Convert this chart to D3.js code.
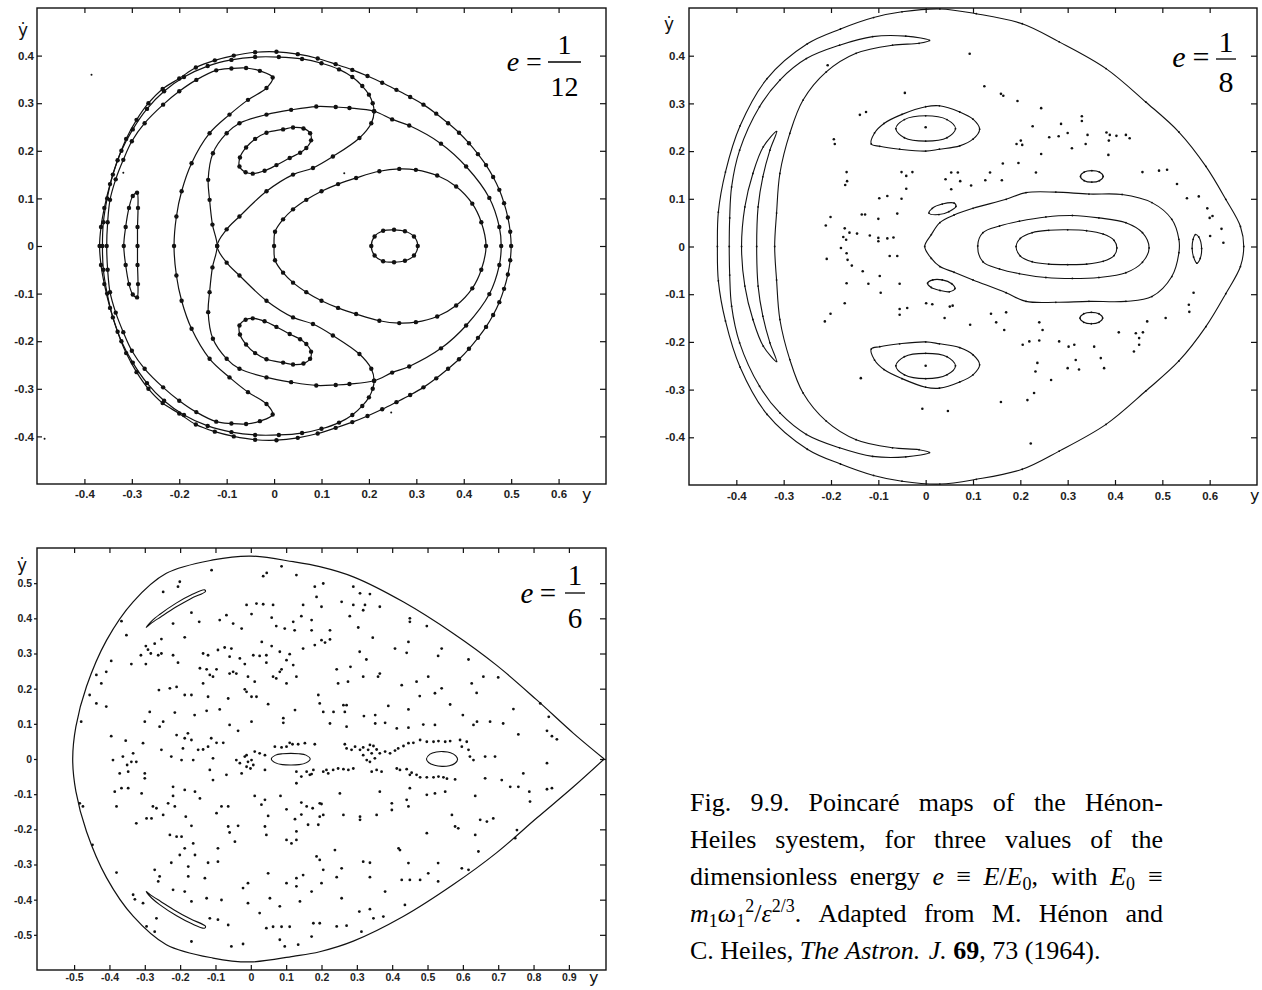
<!DOCTYPE html>
<html>
<head>
<meta charset="utf-8">
<script src="https://cdn.jsdelivr.net/npm/d3@7"></script>
<style>
body { margin: 0; background: #fff; }
svg { display: block; }
</style>
</head>
<body>
<svg width="1262" height="990"></svg>
<script>
// ---------- panel 1 : e = 1/12 ----------
const p1Outer = [[0.500,0],[0.498,0.030],[0.493,0.060],[0.485,0.090],[0.475,0.118],[0.462,0.145],[0.447,0.170],[0.430,0.193],[0.411,0.216],[0.390,0.238],[0.367,0.258],[0.342,0.278],[0.315,0.297],[0.287,0.313],[0.258,0.328],[0.228,0.343],[0.197,0.357],[0.165,0.370],[0.130,0.382],[0.092,0.394],[0.050,0.403],[0.005,0.408],[-0.040,0.407],[-0.085,0.400],[-0.125,0.390],[-0.165,0.375],[-0.200,0.352],[-0.235,0.330],[-0.265,0.300],[-0.290,0.265],[-0.312,0.225],[-0.330,0.180],[-0.346,0.130],[-0.358,0.080],[-0.365,0.040],[-0.368,0],[-0.365,-0.040],[-0.358,-0.080],[-0.346,-0.130],[-0.330,-0.180],[-0.312,-0.225],[-0.290,-0.265],[-0.265,-0.300],[-0.235,-0.330],[-0.200,-0.352],[-0.165,-0.375],[-0.125,-0.390],[-0.085,-0.400],[-0.040,-0.407],[0.005,-0.408],[0.050,-0.403],[0.092,-0.394],[0.130,-0.382],[0.165,-0.370],[0.197,-0.357],[0.228,-0.343],[0.258,-0.328],[0.287,-0.313],[0.315,-0.297],[0.342,-0.278],[0.367,-0.258],[0.390,-0.238],[0.411,-0.216],[0.430,-0.193],[0.447,-0.170],[0.462,-0.145],[0.475,-0.118],[0.485,-0.090],[0.493,-0.060],[0.498,-0.030]];

const p1Separatrix = [[-0.362,0],[-0.360,0.050],[-0.352,0.100],[-0.340,0.150],[-0.322,0.200],[-0.298,0.245],[-0.268,0.288],[-0.232,0.325],[-0.190,0.355],[-0.140,0.378],[-0.090,0.391],[-0.040,0.397],[0.010,0.397],[0.059,0.393],[0.100,0.384],[0.137,0.371],[0.165,0.355],[0.186,0.336],[0.200,0.318],[0.208,0.300],[0.211,0.283],[0.205,0.258],[0.180,0.227],[0.124,0.188],[0.082,0.164],[0.040,0.150],[-0.016,0.115],[-0.073,0.062],[-0.100,0.035],[-0.120,0],[-0.100,-0.035],[-0.073,-0.062],[-0.016,-0.115],[0.040,-0.150],[0.082,-0.164],[0.124,-0.188],[0.180,-0.227],[0.205,-0.258],[0.211,-0.283],[0.208,-0.300],[0.200,-0.318],[0.186,-0.336],[0.165,-0.355],[0.137,-0.371],[0.100,-0.384],[0.059,-0.393],[0.010,-0.397],[-0.040,-0.397],[-0.090,-0.391],[-0.140,-0.378],[-0.190,-0.355],[-0.232,-0.325],[-0.268,-0.288],[-0.298,-0.245],[-0.322,-0.200],[-0.340,-0.150],[-0.352,-0.100],[-0.360,-0.050]];

const p1Loop = [[-0.120,0],[-0.130,0.045],[-0.136,0.097],[-0.139,0.139],[-0.129,0.195],[-0.100,0.237],[-0.073,0.258],[-0.016,0.276],[0.036,0.286],[0.089,0.293],[0.130,0.292],[0.159,0.290],[0.211,0.283],[0.249,0.266],[0.285,0.253],[0.352,0.215],[0.405,0.167],[0.454,0.101],[0.475,0.040],[0.479,0],[0.475,-0.040],[0.454,-0.101],[0.405,-0.167],[0.352,-0.215],[0.285,-0.253],[0.249,-0.266],[0.211,-0.283],[0.159,-0.290],[0.130,-0.292],[0.089,-0.293],[0.036,-0.286],[-0.016,-0.276],[-0.073,-0.258],[-0.100,-0.237],[-0.129,-0.195],[-0.139,-0.139],[-0.136,-0.097],[-0.130,-0.045]];

const p1Heart = [[0,0],[0.002,0.030],[0.019,0.056],[0.040,0.077],[0.068,0.097],[0.100,0.115],[0.135,0.130],[0.173,0.143],[0.222,0.157],[0.264,0.162],[0.299,0.160],[0.344,0.148],[0.384,0.125],[0.418,0.089],[0.437,0.050],[0.447,0],[0.437,-0.050],[0.418,-0.089],[0.384,-0.125],[0.344,-0.148],[0.299,-0.160],[0.264,-0.162],[0.222,-0.157],[0.173,-0.143],[0.135,-0.130],[0.100,-0.115],[0.068,-0.097],[0.040,-0.077],[0.019,-0.056],[0.002,-0.030]];

const p1Crescent = [[-0.003,0.354],[-0.030,0.368],[-0.059,0.374],[-0.090,0.373],[-0.122,0.369],[-0.164,0.349],[-0.200,0.325],[-0.234,0.297],[-0.273,0.258],[-0.300,0.220],[-0.318,0.181],[-0.334,0.140],[-0.346,0.097],[-0.351,0.050],[-0.353,0],[-0.351,-0.050],[-0.346,-0.097],[-0.334,-0.140],[-0.318,-0.181],[-0.300,-0.220],[-0.273,-0.258],[-0.234,-0.297],[-0.200,-0.325],[-0.164,-0.349],[-0.122,-0.369],[-0.090,-0.373],[-0.059,-0.374],[-0.030,-0.368],[-0.003,-0.354],[-0.016,-0.332],[-0.055,-0.307],[-0.094,-0.276],[-0.136,-0.237],[-0.174,-0.174],[-0.195,-0.115],[-0.206,-0.062],[-0.211,0],[-0.206,0.062],[-0.195,0.115],[-0.174,0.174],[-0.136,0.237],[-0.094,0.276],[-0.055,0.307],[-0.016,0.332]];

const p1IslandTop = [[-0.073,0.167],[-0.060,0.155],[-0.045,0.152],[-0.020,0.158],[0.005,0.170],[0.033,0.185],[0.055,0.196],[0.068,0.206],[0.078,0.222],[0.076,0.237],[0.062,0.247],[0.040,0.249],[0.019,0.245],[-0.016,0.238],[-0.040,0.225],[-0.059,0.207],[-0.072,0.186]];
const p1IslandBottom = [[-0.073,-0.167],[-0.060,-0.155],[-0.045,-0.152],[-0.020,-0.158],[0.005,-0.170],[0.033,-0.185],[0.055,-0.196],[0.068,-0.206],[0.078,-0.222],[0.076,-0.237],[0.062,-0.247],[0.040,-0.249],[0.019,-0.245],[-0.016,-0.238],[-0.040,-0.225],[-0.059,-0.207],[-0.072,-0.186]];
const p1IslandRight = [[0.205,0],[0.212,0.020],[0.230,0.032],[0.253,0.034],[0.276,0.031],[0.295,0.020],[0.303,0],[0.295,-0.020],[0.276,-0.031],[0.253,-0.034],[0.230,-0.032],[0.212,-0.020]];
const p1IslandLeft = [[-0.289,0.112],[-0.298,0.105],[-0.306,0.080],[-0.313,0.040],[-0.317,0],[-0.313,-0.040],[-0.306,-0.080],[-0.298,-0.102],[-0.289,-0.108],[-0.287,-0.080],[-0.288,-0.040],[-0.288,0],[-0.288,0.040],[-0.287,0.080]];
const p1Stray = [[-0.385,0.360],[0.148,0.153],[-0.484,-0.405],[0.247,-0.350],[-0.318,0.154]];

// ---------- panel 2 : e = 1/8 ----------
const p2Boundary = [[0.672,0],[0.665,0.042],[0.634,0.099],[0.592,0.168],[0.535,0.240],[0.465,0.303],[0.381,0.373],[0.282,0.429],[0.204,0.467],[0.107,0.488],[0.030,0.498],[-0.050,0.492],[-0.110,0.480],[-0.180,0.456],[-0.250,0.425],[-0.335,0.352],[-0.392,0.253],[-0.423,0.156],[-0.438,0.072],[-0.440,0],[-0.438,-0.072],[-0.423,-0.156],[-0.392,-0.253],[-0.335,-0.352],[-0.250,-0.425],[-0.180,-0.456],[-0.110,-0.480],[-0.050,-0.492],[0.030,-0.498],[0.107,-0.488],[0.204,-0.467],[0.282,-0.429],[0.381,-0.373],[0.465,-0.303],[0.535,-0.240],[0.592,-0.168],[0.634,-0.099],[0.665,-0.042]];
const p2Crescent = [[0.008,0.432],[-0.042,0.441],[-0.112,0.440],[-0.182,0.422],[-0.252,0.394],[-0.308,0.349],[-0.351,0.293],[-0.393,0.202],[-0.410,0.125],[-0.414,0.060],[-0.415,0],[-0.414,-0.060],[-0.410,-0.125],[-0.393,-0.202],[-0.351,-0.293],[-0.308,-0.349],[-0.252,-0.394],[-0.182,-0.422],[-0.112,-0.440],[-0.042,-0.441],[0.008,-0.432],[-0.014,-0.426],[-0.070,-0.422],[-0.147,-0.405],[-0.210,-0.366],[-0.259,-0.307],[-0.287,-0.237],[-0.308,-0.153],[-0.315,-0.070],[-0.319,0],[-0.315,0.070],[-0.308,0.153],[-0.287,0.237],[-0.259,0.307],[-0.210,0.366],[-0.147,0.405],[-0.070,0.422],[-0.014,0.426]];
const p2Sliver = [[-0.315,0.241],[-0.343,0.209],[-0.365,0.153],[-0.382,0.083],[-0.389,0],[-0.382,-0.083],[-0.365,-0.153],[-0.343,-0.209],[-0.315,-0.241],[-0.329,-0.202],[-0.344,-0.146],[-0.354,-0.083],[-0.357,0],[-0.354,0.083],[-0.344,0.146],[-0.329,0.202]];
const p2TopLoop = [[-0.115,0.215],[-0.108,0.238],[-0.088,0.258],[-0.050,0.277],[0,0.293],[0.029,0.295],[0.072,0.282],[0.100,0.267],[0.114,0.246],[0.100,0.225],[0.072,0.211],[0.029,0.204],[0,0.200],[-0.055,0.204],[-0.097,0.210]];
const p2TopCore = [[-0.063,0.247],[-0.045,0.266],[0,0.274],[0.045,0.266],[0.063,0.247],[0.045,0.228],[0,0.221],[-0.045,0.228]];
const p2BottomLoop = [[-0.115,-0.215],[-0.108,-0.238],[-0.088,-0.258],[-0.050,-0.277],[0,-0.295],[0.029,-0.297],[0.072,-0.284],[0.100,-0.269],[0.114,-0.248],[0.100,-0.227],[0.072,-0.212],[0.029,-0.204],[0,-0.200],[-0.055,-0.204],[-0.097,-0.210]];
const p2BottomCore = [[-0.063,-0.250],[-0.045,-0.269],[0,-0.277],[0.045,-0.269],[0.063,-0.250],[0.045,-0.231],[0,-0.224],[-0.045,-0.231]];
const p2SmallTop = [[0.007,0.070],[0.014,0.080],[0.035,0.089],[0.060,0.091],[0.064,0.084],[0.049,0.073],[0.028,0.067]];
const p2SmallBottom = [[0.004,-0.077],[0.015,-0.070],[0.035,-0.070],[0.055,-0.078],[0.062,-0.088],[0.050,-0.095],[0.030,-0.092],[0.012,-0.086]];
const p2Outer = [[-0.002,0],[0.012,0.025],[0.030,0.050],[0.060,0.066],[0.100,0.080],[0.170,0.099],[0.212,0.113],[0.275,0.114],[0.345,0.110],[0.415,0.109],[0.478,0.092],[0.520,0.057],[0.535,0.015],[0.535,-0.013],[0.520,-0.063],[0.478,-0.105],[0.423,-0.115],[0.345,-0.115],[0.275,-0.117],[0.212,-0.115],[0.170,-0.097],[0.100,-0.070],[0.060,-0.054],[0.030,-0.042],[0.012,-0.025]];
const p2Middle = [[0.110,0.001],[0.121,0.029],[0.156,0.043],[0.198,0.053],[0.254,0.062],[0.310,0.065],[0.366,0.060],[0.423,0.050],[0.458,0.029],[0.472,-0.003],[0.458,-0.033],[0.423,-0.055],[0.366,-0.065],[0.310,-0.067],[0.254,-0.065],[0.198,-0.057],[0.156,-0.047],[0.121,-0.032]];
const p2Inner = [[0.191,0],[0.200,0.017],[0.225,0.029],[0.260,0.034],[0.300,0.035],[0.340,0.033],[0.375,0.026],[0.398,0.013],[0.404,-0.003],[0.398,-0.019],[0.375,-0.031],[0.340,-0.037],[0.300,-0.038],[0.260,-0.037],[0.225,-0.032],[0.200,-0.020]];
const p2EyeTop = [[0.327,0.147],[0.335,0.156],[0.351,0.159],[0.367,0.156],[0.375,0.147],[0.367,0.138],[0.351,0.135],[0.335,0.138]];
const p2EyeBottom = [[0.326,-0.150],[0.334,-0.141],[0.350,-0.138],[0.366,-0.141],[0.374,-0.150],[0.366,-0.159],[0.350,-0.162],[0.334,-0.159]];
const p2EyeRight = [[0.563,-0.004],[0.565,0.015],[0.570,0.025],[0.577,0.020],[0.583,-0.004],[0.580,-0.025],[0.573,-0.035],[0.566,-0.022]];
const p2Scatter = [[0,0.250],[0,-0.250],[-0.207,0.380],[-0.044,0.322],[-0.139,0.276],[-0.126,0.282],[-0.194,0.225],[-0.192,0.215],[-0.167,0.156],[-0.166,0.137],[-0.170,0.129],[-0.051,0.156],[-0.041,0.148],[-0.028,0.156],[-0.041,0.121],[-0.051,0.100],[-0.081,0.106],[-0.098,0.101],[-0.060,0.069],[-0.135,0.067],[-0.128,0.067],[-0.201,0.062],[-0.211,0.044],[-0.100,0.058],[-0.118,0.023],[-0.100,0.018],[-0.100,0.011],[-0.081,0.017],[-0.068,0.019],[-0.171,0.038],[-0.161,0.029],[-0.145,0.027],[-0.174,0.020],[-0.168,0.014],[-0.179,-0.003],[-0.167,-0.014],[-0.165,-0.028],[-0.156,-0.040],[-0.133,-0.052],[-0.209,-0.026],[-0.076,-0.020],[-0.060,-0.020],[-0.097,-0.062],[-0.121,-0.078],[-0.167,-0.077],[-0.095,-0.097],[-0.055,-0.078],[-0.171,-0.119],[-0.201,-0.141],[-0.213,-0.157],[-0.055,-0.131],[-0.055,-0.143],[-0.039,-0.129],[0.001,-0.119],[0.014,-0.121],[0.040,-0.150],[0.051,-0.126],[-0.137,-0.276],[-0.007,-0.340],[0.047,-0.345],[0.054,0.155],[0.068,0.155],[0.042,0.141],[0.054,0.120],[0.093,0.404],[0.124,0.336],[0.159,0.320],[0.164,0.316],[0.194,0.305],[0.244,0.290],[0.226,0.252],[0.330,0.273],[0.330,0.263],[0.286,0.257],[0.300,0.238],[0.261,0.229],[0.281,0.231],[0.342,0.234],[0.338,0.215],[0.309,0.206],[0.382,0.239],[0.389,0.234],[0.403,0.232],[0.423,0.234],[0.431,0.227],[0.387,0.222],[0.386,0.192],[0.192,0.215],[0.201,0.222],[0.204,0.213],[0.196,0.175],[0.244,0.194],[0.163,0.174],[0.233,0.155],[0.161,0.139],[0.136,0.155],[0.126,0.139],[0.096,0.128],[0.073,0.137],[0.458,0.156],[0.493,0.159],[0.510,0.161],[0.531,0.131],[0.552,0.101],[0.577,0.105],[0.595,0.080],[0.600,0.060],[0.606,0.064],[0.625,0.037],[0.629,0.008],[0.601,0.022],[0.566,-0.097],[0.556,-0.122],[0.557,-0.137],[0.507,-0.150],[0.468,-0.157],[0.459,-0.180],[0.451,-0.192],[0.444,-0.182],[0.451,-0.206],[0.440,-0.220],[0.408,-0.180],[0.138,-0.141],[0.149,-0.159],[0.170,-0.138],[0.166,-0.175],[0.240,-0.159],[0.247,-0.175],[0.240,-0.197],[0.219,-0.199],[0.205,-0.206],[0.282,-0.199],[0.302,-0.210],[0.314,-0.206],[0.356,-0.210],[0.317,-0.238],[0.300,-0.255],[0.324,-0.258],[0.370,-0.234],[0.377,-0.255],[0.236,-0.244],[0.232,-0.262],[0.265,-0.280],[0.229,-0.307],[0.215,-0.322],[0.159,-0.326],[0.094,-0.164],[0.057,-0.124],[0.222,-0.413]];

// ---------- panel 3 : e = 1/6 ----------
const p3Boundary = [[1.000,0],[0.913,0.073],[0.809,0.168],[0.695,0.267],[0.573,0.357],[0.431,0.447],[0.290,0.518],[0.195,0.547],[0.120,0.561],[0,0.577],[-0.107,0.566],[-0.239,0.528],[-0.333,0.447],[-0.408,0.338],[-0.465,0.206],[-0.495,0.092],[-0.504,0],[-0.495,-0.092],[-0.465,-0.206],[-0.408,-0.338],[-0.333,-0.447],[-0.239,-0.528],[-0.107,-0.566],[0,-0.577],[0.120,-0.561],[0.195,-0.548],[0.290,-0.518],[0.431,-0.448],[0.573,-0.357],[0.695,-0.267],[0.809,-0.168],[0.913,-0.079],[1.000,0]];
const p3CrescentTop = [[-0.296,0.374],[-0.280,0.393],[-0.258,0.411],[-0.210,0.444],[-0.168,0.467],[-0.131,0.481],[-0.128,0.477],[-0.170,0.456],[-0.212,0.432],[-0.255,0.404],[-0.283,0.385]];
const p3CrescentBottom = [[-0.296,-0.377],[-0.280,-0.396],[-0.258,-0.414],[-0.210,-0.446],[-0.168,-0.468],[-0.131,-0.481],[-0.128,-0.476],[-0.170,-0.455],[-0.212,-0.432],[-0.255,-0.405],[-0.283,-0.387]];
const p3OvalLeft = [[0.058,0],[0.070,0.011],[0.090,0.015],[0.113,0.016],[0.136,0.015],[0.156,0.011],[0.168,0],[0.156,-0.011],[0.136,-0.016],[0.113,-0.017],[0.090,-0.016],[0.070,-0.011]];
const p3OvalRight = [[0.497,0],[0.507,0.014],[0.525,0.020],[0.545,0.021],[0.565,0.018],[0.580,0.009],[0.585,-0.001],[0.578,-0.012],[0.562,-0.019],[0.541,-0.021],[0.520,-0.018],[0.503,-0.010]];
const p3Scatter = [[-0.111,0.537],[0.035,0.520],[0.045,0.529],[0.087,0.548],[0.129,0.523],[-0.201,0.504],[-0.206,0.490],[-0.248,0.475],[0.181,0.490],[0.205,0.499],[0.186,0.461],[0.200,0.433],[-0.012,0.438],[0.016,0.442],[0.035,0.440],[0.063,0.438],[0.148,0.438],[-0.168,0.416],[-0.069,0.409],[-0.088,0.395],[0.002,0.412],[0.059,0.402],[0.120,0.390],[0.143,0.406],[0.172,0.395],[-0.050,0.385],[-0.026,0.371],[0.072,0.378],[0.096,0.371],[0.124,0.366],[0.172,0.366],[-0.146,0.390],[-0.220,0.385],[-0.187,0.346],[-0.253,0.341],[-0.352,0.352],[-0.366,0.392],[-0.297,0.321],[-0.311,0.295],[-0.283,0.300],[-0.297,0.270],[-0.272,0.328],[-0.291,0.311],[-0.262,0.295],[-0.253,0.300],[-0.220,0.295],[-0.206,0.274],[-0.338,0.270],[-0.395,0.279],[-0.409,0.248],[-0.437,0.239],[-0.423,0.215],[-0.456,0.182],[-0.437,0.158],[-0.480,0.106],[-0.409,0.149],[-0.135,0.300],[-0.121,0.295],[-0.093,0.310],[-0.074,0.317],[-0.055,0.314],[-0.060,0.291],[-0.031,0.286],[-0.017,0.270],[0.007,0.295],[0.025,0.293],[0.044,0.295],[0.031,0.333],[0.059,0.321],[0.082,0.305],[0.110,0.298],[0.101,0.281],[0.120,0.267],[0.148,0.314],[0.181,0.324],[0.200,0.338],[-0.144,0.258],[-0.125,0.255],[-0.116,0.239],[-0.107,0.234],[-0.097,0.255],[-0.060,0.243],[-0.050,0.248],[-0.041,0.243],[-0.008,0.234],[0.011,0.220],[0.044,0.274],[0.063,0.234],[0.072,0.229],[0.087,0.255],[0.101,0.215],[0.129,0.234],[0.082,0.248],[-0.135,0.215],[-0.121,0.177],[-0.064,0.172],[-0.017,0.198],[-0.012,0.191],[0.016,0.177],[0.049,0.156],[0.002,0.177],[-0.260,0.196],[-0.229,0.201],[-0.210,0.205],[-0.187,0.182],[-0.168,0.182],[-0.215,0.132],[-0.159,0.125],[-0.125,0.137],[-0.088,0.141],[-0.286,0.134],[-0.300,0.106],[-0.248,0.106],[-0.258,0.092],[0.191,0.182],[0.195,0.158],[0.205,0.134],[0.125,0.139],[0.092,0.116],[0.092,0.103],[0.002,0.106],[-0.060,0.097],[-0.036,0.080],[-0.395,0.065],[-0.354,0.052],[-0.333,0.016],[-0.305,0.045],[-0.253,0.026],[-0.210,0.068],[-0.187,0.059],[-0.178,0.073],[-0.168,0.054],[-0.149,0.026],[-0.135,0.027],[-0.121,0.035],[-0.112,0.059],[-0.097,0.046],[-0.078,0.046],[-0.192,0.030],[-0.225,0.007],[-0.362,0.007],[-0.350,-0.017],[-0.338,-0.008],[-0.324,-0.008],[-0.390,-0.003],[-0.371,-0.041],[-0.347,-0.036],[-0.300,-0.041],[-0.300,-0.055],[-0.196,-0.003],[-0.163,-0.003],[-0.116,-0.031],[-0.107,-0.060],[-0.069,-0.045],[-0.107,0.002],[-0.041,-0.003],[-0.031,-0.012],[-0.017,0.007],[-0.008,-0.008],[-0.012,-0.022],[-0.001,-0.027],[0.007,-0.017],[0.011,0.021],[0.025,0.016],[0.040,0.011],[-0.026,-0.041],[0.040,-0.031],[-0.012,0.011],[0.002,-0.003],[0.068,0.035],[0.087,0.033],[0.110,0.046],[0.118,0.042],[0.134,0.042],[0.153,0.045],[0.181,0.042],[0.101,0.035],[0.129,-0.036],[0.143,-0.050],[0.158,-0.036],[0.167,-0.045],[0.177,-0.031],[0.205,-0.036],[0.219,-0.041],[0.172,-0.043],[0.129,-0.069],[-0.385,-0.093],[-0.366,-0.083],[-0.347,-0.083],[-0.380,-0.135],[-0.309,-0.098],[-0.220,-0.079],[-0.220,-0.105],[-0.187,-0.088],[-0.158,-0.093],[-0.144,-0.112],[-0.234,-0.126],[-0.215,-0.135],[-0.277,-0.135],[-0.267,-0.140],[-0.248,-0.159],[-0.295,-0.169],[-0.281,-0.169],[-0.324,-0.183],[-0.184,-0.164],[-0.168,-0.190],[-0.097,-0.154],[-0.083,-0.135],[-0.064,-0.135],[-0.064,-0.192],[-0.036,-0.190],[-0.060,-0.209],[-0.045,-0.235],[0.011,-0.105],[0.030,-0.130],[0.040,-0.116],[0.049,-0.162],[0.040,-0.192],[0.044,-0.216],[0.084,-0.105],[0.101,-0.143],[0.125,-0.171],[0.143,-0.124],[0.143,-0.158],[0.158,-0.135],[0.175,-0.140],[0.200,-0.128],[0.205,-0.159],[0.162,-0.187],[0.191,-0.187],[0.101,-0.230],[0.115,-0.240],[0.129,-0.230],[0.129,-0.206],[-0.229,-0.216],[-0.210,-0.221],[-0.196,-0.221],[-0.163,-0.240],[-0.187,-0.254],[-0.201,-0.273],[-0.225,-0.295],[-0.177,-0.306],[-0.158,-0.273],[-0.121,-0.295],[-0.093,-0.292],[-0.093,-0.254],[-0.130,-0.339],[-0.177,-0.334],[-0.258,-0.334],[-0.272,-0.315],[-0.262,-0.348],[-0.380,-0.323],[-0.333,-0.386],[-0.328,-0.399],[-0.305,-0.410],[-0.220,-0.372],[-0.187,-0.377],[-0.168,-0.405],[-0.125,-0.396],[-0.083,-0.401],[-0.116,-0.453],[-0.093,-0.457],[-0.064,-0.472],[-0.267,-0.453],[-0.295,-0.476],[-0.272,-0.491],[-0.168,-0.519],[-0.055,-0.533],[-0.022,-0.526],[-0.022,-0.367],[-0.008,-0.353],[-0.008,-0.410],[0.025,-0.438],[0.049,-0.325],[0.054,-0.396],[0.082,-0.419],[0.101,-0.353],[0.129,-0.339],[0.129,-0.362],[0.148,-0.330],[0.172,-0.377],[0.139,-0.405],[0.044,-0.481],[0.063,-0.477],[0.087,-0.477],[0.110,-0.477],[0.082,-0.514],[0.096,-0.533],[0.134,-0.528],[0.172,-0.505],[0.177,-0.467],[0.195,-0.467],[0.195,-0.287],[0.205,-0.315],[0.200,-0.353],[0.186,-0.277],[-0.484,-0.126],[-0.475,-0.135],[-0.448,-0.244],[0.290,0.490],[0.309,0.471],[0.337,0.469],[0.257,0.447],[0.290,0.438],[0.323,0.438],[0.318,0.423],[0.365,0.433],[0.280,0.406],[0.450,0.400],[0.450,0.390],[0.498,0.378],[0.224,0.366],[0.224,0.340],[0.304,0.374],[0.345,0.345],[0.446,0.333],[0.408,0.314],[0.441,0.302],[0.308,0.305],[0.327,0.283],[0.210,0.331],[0.540,0.314],[0.530,0.293],[0.616,0.283],[0.243,0.255],[0.282,0.262],[0.247,0.215],[0.275,0.220],[0.318,0.234],[0.365,0.243],[0.360,0.234],[0.427,0.210],[0.469,0.220],[0.502,0.234],[0.540,0.201],[0.521,0.187],[0.478,0.179],[0.625,0.215],[0.639,0.188],[0.700,0.232],[0.658,0.234],[0.234,0.134],[0.262,0.153],[0.271,0.153],[0.266,0.134],[0.320,0.122],[0.352,0.125],[0.389,0.151],[0.446,0.141],[0.564,0.155],[0.600,0.125],[0.640,0.106],[0.677,0.106],[0.714,0.101],[0.743,0.142],[0.757,0.070],[0.819,0.158],[0.843,0.120],[0.838,0.080],[0.852,0.065],[0.866,0.056],[0.224,0.101],[0.271,0.092],[0.352,0.101],[0.380,0.103],[0.413,0.087],[0.446,0.089],[0.488,0.098],[0.521,0.097],[0.630,0.097],[0.266,0.042],[0.271,0.030],[0.285,0.026],[0.295,0.035],[0.309,0.026],[0.318,0.033],[0.332,0.026],[0.337,0.040],[0.347,0.037],[0.356,0.027],[0.365,0.016],[0.380,0.021],[0.394,0.016],[0.408,0.024],[0.417,0.030],[0.432,0.037],[0.446,0.045],[0.460,0.046],[0.479,0.054],[0.498,0.049],[0.517,0.049],[0.531,0.051],[0.550,0.049],[0.564,0.051],[0.592,0.054],[0.611,0.049],[0.597,0.035],[0.616,0.026],[0.620,0.007],[0.630,-0.003],[0.318,0.011],[0.328,-0.003],[0.337,-0.008],[0.351,0.002],[0.342,0.016],[0.214,-0.031],[0.233,-0.031],[0.247,-0.027],[0.262,-0.029],[0.276,-0.031],[0.290,-0.027],[0.342,-0.036],[0.356,-0.031],[0.370,-0.036],[0.413,-0.027],[0.422,-0.031],[0.441,-0.029],[0.455,-0.039],[0.469,-0.045],[0.479,-0.052],[0.498,-0.052],[0.517,-0.052],[0.531,-0.050],[0.545,-0.052],[0.555,-0.056],[0.578,-0.058],[0.450,-0.045],[0.663,0.007],[0.691,0.007],[0.710,-0.060],[0.734,-0.079],[0.757,-0.079],[0.771,-0.041],[0.838,-0.012],[0.838,-0.086],[0.852,-0.083],[0.788,-0.093],[0.790,-0.121],[0.663,-0.055],[0.635,-0.105],[0.365,-0.093],[0.450,-0.083],[0.441,-0.116],[0.498,-0.102],[0.521,-0.098],[0.550,-0.093],[0.252,-0.098],[0.262,-0.159],[0.309,-0.173],[0.356,-0.159],[0.399,-0.126],[0.399,-0.145],[0.446,-0.135],[0.498,-0.211],[0.569,-0.159],[0.578,-0.192],[0.587,-0.197],[0.635,-0.216],[0.649,-0.173],[0.668,-0.178],[0.686,-0.169],[0.753,-0.202],[0.748,-0.225],[0.644,-0.263],[0.616,-0.315],[0.597,-0.311],[0.530,-0.296],[0.530,-0.348],[0.502,-0.325],[0.446,-0.296],[0.427,-0.344],[0.450,-0.344],[0.479,-0.344],[0.418,-0.254],[0.422,-0.259],[0.318,-0.292],[0.337,-0.295],[0.337,-0.336],[0.238,-0.259],[0.257,-0.311],[0.243,-0.336],[0.380,-0.377],[0.436,-0.415],[0.257,-0.396],[0.307,-0.434],[0.337,-0.427],[0.347,-0.453],[0.375,-0.448],[0.243,-0.476],[0.271,-0.474],[0.313,-0.491],[0.309,-0.164],[0.195,-0.164],[0.195,-0.126]];

// ---------- ticks, labels ----------
const ticksX12 = [-0.4,-0.3,-0.2,-0.1,0,0.1,0.2,0.3,0.4,0.5,0.6];
const ticksY12 = [-0.4,-0.3,-0.2,-0.1,0,0.1,0.2,0.3,0.4];
const ticksX3 = [-0.5,-0.4,-0.3,-0.2,-0.1,0,0.1,0.2,0.3,0.4,0.5,0.6,0.7,0.8,0.9];
const ticksY3 = [-0.5,-0.4,-0.3,-0.2,-0.1,0,0.1,0.2,0.3,0.4,0.5];
const energyLabels = [["1","12"],["1","8"],["1","6"]];
const captionLines = [
  "Fig. 9.9. Poincaré maps of the Hénon-",
  "Heiles syestem, for three values of the",
  "dimensionless energy _e_ ≡ _E_/_E_~0~, with _E_~0~ ≡",
  "_m_~1~_ω_~1~^2^/_ε_^2/3^.  Adapted from M. Hénon and",
  "C. Heiles, _The_ _Astron._ _J._ *69*, 73 (1964)."
];

const svg = d3.select("svg");
const ink = "#111";
const fmt = d => d === 0 ? "0" : d.toFixed(1);

const x1 = d3.scaleLinear().domain([-0.5, 0.7]).range([37, 606]);
const y1 = d3.scaleLinear().domain([-0.5, 0.5]).range([484, 8]);
const x2 = d3.scaleLinear().domain([-0.5, 0.7]).range([689, 1257]);
const y2 = d3.scaleLinear().domain([-0.5, 0.5]).range([485, 8]);
const x3 = d3.scaleLinear().domain([-0.605, 1.005]).range([37, 606]);
const y3 = d3.scaleLinear().domain([-0.6, 0.6]).range([970, 548]);

const styleAxis = (g, size) => {
    g.select(".domain").remove();
    g.selectAll("line").attr("stroke", ink).attr("stroke-width", 1.2);
    g.selectAll("text").attr("fill", "#222")
        .style("font-family", "'Liberation Sans', Arial, sans-serif")
        .style("font-weight", "bold")
        .style("font-size", size + "px");
};

const frame = (x, y, xt, yt, o) => {
    const [l, r] = x.range(), [b, t] = y.range();
    svg.append("rect")
        .attr("x", l).attr("y", t).attr("width", r - l).attr("height", b - t)
        .attr("fill", "none").attr("stroke", ink).attr("stroke-width", 1.4);
    svg.append("g").attr("transform", `translate(0,${b})`)
        .call(d3.axisBottom(x).tickValues(xt).tickSizeInner(-5).tickSizeOuter(0).tickPadding(o.padB).tickFormat(fmt))
        .call(g => styleAxis(g, o.size));
    svg.append("g").attr("transform", `translate(0,${t})`)
        .call(d3.axisTop(x).tickValues(xt).tickSizeInner(-5).tickSizeOuter(0).tickFormat(""))
        .call(g => styleAxis(g, o.size));
    svg.append("g").attr("transform", `translate(${l},0)`)
        .call(d3.axisLeft(y).tickValues(yt).tickSizeInner(o.leftTick).tickSizeOuter(0).tickPadding(o.padL).tickFormat(fmt))
        .call(g => styleAxis(g, o.size));
    svg.append("g").attr("transform", `translate(${r},0)`)
        .call(d3.axisRight(y).tickValues(yt).tickSizeInner(-6).tickSizeOuter(0).tickFormat(""))
        .call(g => styleAxis(g, o.size));
    // axis names
    svg.append("text").attr("x", o.ydot[0]).attr("y", o.ydot[1]).text("ẏ")
        .attr("fill", ink).style("font-family", "'DejaVu Sans', sans-serif").style("font-size", "17px");
    svg.append("text").attr("x", o.yname[0]).attr("y", o.yname[1]).text("y")
        .attr("fill", ink).style("font-family", "'DejaVu Sans', sans-serif").style("font-size", "16px");
};

const energy = (lab, o) => {
    const g = svg.append("g").style("font-family", "'Liberation Serif', 'Times New Roman', serif")
        .style("font-size", o.size + "px").attr("fill", "#000");
    g.append("text").attr("x", o.e).attr("y", o.base).attr("text-anchor", "middle")
        .style("font-style", "italic").text("e");
    g.append("text").attr("x", o.eq).attr("y", o.base).attr("text-anchor", "middle").text("=");
    g.append("line").attr("x1", o.bar[0]).attr("x2", o.bar[1]).attr("y1", o.bar[2]).attr("y2", o.bar[2])
        .attr("stroke", "#000").attr("stroke-width", 1.3);
    const cx = (o.bar[0] + o.bar[1]) / 2;
    g.append("text").attr("x", cx).attr("y", o.num).attr("text-anchor", "middle").text(lab[0]);
    g.append("text").attr("x", cx).attr("y", o.den).attr("text-anchor", "middle").text(lab[1]);
};

const closed = (x, y) => d3.line().x(d => x(d[0])).y(d => y(d[1])).curve(d3.curveCatmullRomClosed.alpha(0.5));
const open = (x, y) => d3.line().x(d => x(d[0])).y(d => y(d[1])).curve(d3.curveCatmullRom.alpha(0.5));

const drawCurve = (x, y, pts, width, gen) => {
    svg.append("path").attr("d", (gen || closed)(x, y)(pts))
        .attr("fill", "none").attr("stroke", ink).attr("stroke-width", width);
};
const drawDots = (x, y, pts, r) => {
    svg.append("g").selectAll("circle").data(pts).join("circle")
        .attr("cx", d => x(d[0])).attr("cy", d => y(d[1])).attr("r", r).attr("fill", ink);
};

// ---- panel 1
frame(x1, y1, ticksX12, ticksY12, {padB: 6, padL: 3, leftTick: -5, size: 11.5, ydot: [18, 36], yname: [582, 500]});
[p1Outer, p1Separatrix, p1Loop, p1Heart, p1Crescent, p1IslandTop, p1IslandBottom, p1IslandRight, p1IslandLeft]
    .forEach(c => { drawCurve(x1, y1, c, 1.2); drawDots(x1, y1, c, 2.2); });
drawDots(x1, y1, p1Stray, 1);
energy(energyLabels[0], {size: 28, e: 513, eq: 534, base: 71, bar: [548, 581, 62], num: 54, den: 96});

// ---- panel 2
frame(x2, y2, ticksX12, ticksY12, {padB: 7, padL: 4, leftTick: -5, size: 11.5, ydot: [664, 30], yname: [1250, 501]});
[p2Boundary, p2Crescent, p2Sliver, p2TopLoop, p2TopCore, p2BottomLoop, p2BottomCore, p2SmallTop, p2SmallBottom,
 p2Outer, p2Middle, p2Inner, p2EyeTop, p2EyeBottom, p2EyeRight]
    .forEach(c => { drawCurve(x2, y2, c, 1.1); drawDots(x2, y2, c, 0.9); });
drawDots(x2, y2, p2Scatter, 1.3);
energy(energyLabels[1], {size: 30, e: 1179, eq: 1201, base: 67, bar: [1216, 1236, 59], num: 52, den: 92});

// ---- panel 3
frame(x3, y3, ticksX3, ticksY3, {padB: 4, padL: 2, leftTick: 3, size: 10.5, ydot: [17, 571], yname: [589, 983]});
drawCurve(x3, y3, p3Boundary, 1.2, open);
[p3CrescentTop, p3CrescentBottom, p3OvalLeft, p3OvalRight].forEach(c => drawCurve(x3, y3, c, 1.1));
drawDots(x3, y3, p3Scatter, 1.4);
energy(energyLabels[2], {size: 29, e: 527, eq: 548, base: 603, bar: [565, 585, 593], num: 585, den: 628});

// ---- caption (justified)
const cap = {left: 690, right: 1163, top: 811, step: 37, size: 26};
const tokens = w => w.match(/_[^_]+_|\*[^*]+\*|~[^~]+~|\^[^^]+\^|[^_*~^]+/g);
captionLines.forEach((ln, i) => {
    const words = ln.split(/\s+/);
    const base = cap.top + i * cap.step;
    const nodes = words.map(w => {
        const t = svg.append("text").attr("y", base)
            .style("font-family", "'Liberation Serif', 'Times New Roman', serif")
            .style("font-size", cap.size + "px").attr("fill", "#000");
        let shift = 0;
        tokens(w).forEach(tok => {
            let txt = tok, st = {}, target = 0;
            if (tok[0] === "_") { txt = tok.slice(1, -1); st.i = true; }
            else if (tok[0] === "*") { txt = tok.slice(1, -1); st.b = true; }
            else if (tok[0] === "~") { txt = tok.slice(1, -1); target = 5; st.small = true; }
            else if (tok[0] === "^") { txt = tok.slice(1, -1); target = -10; st.small = true; }
            const s = t.append("tspan").text(txt).attr("dy", target - shift);
            shift = target;
            if (st.i) s.style("font-style", "italic");
            if (st.b) s.style("font-weight", "bold");
            if (st.small) s.style("font-size", "18px");
        });
        return t;
    });
    const widths = nodes.map(n => n.node().getBBox().width);
    const total = d3.sum(widths);
    const last = i === captionLines.length - 1;
    const gap = last ? 6.5 : (cap.right - cap.left - total) / (words.length - 1);
    let xpos = cap.left;
    nodes.forEach((n, k) => { n.attr("x", xpos); xpos += widths[k] + gap; });
});
</script>
</body>
</html>
